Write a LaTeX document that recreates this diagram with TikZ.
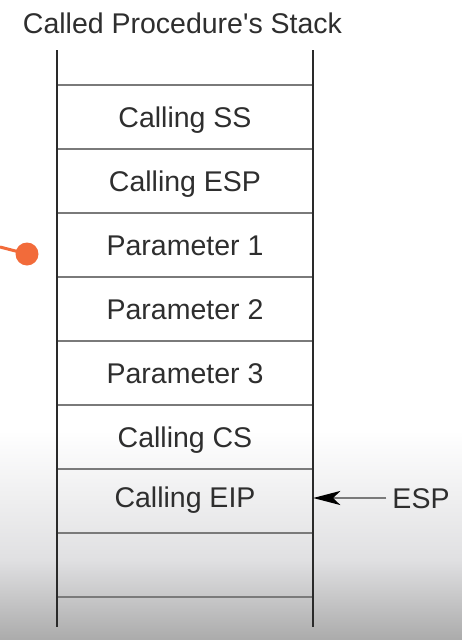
\documentclass[tikz,border=0pt]{standalone}
\usepackage{fontspec}
\setmainfont{Liberation Sans}
\usetikzlibrary{arrows.meta}
\definecolor{txt}{HTML}{2E2E2E}
\definecolor{rule}{HTML}{7A7A7A}
\definecolor{wall}{HTML}{2A2A2A}
\definecolor{dot}{HTML}{F26B3A}
\definecolor{fadeA}{HTML}{E0E0E2}
\definecolor{fadeB}{HTML}{ABABAB}
\tikzset{
  cell/.style={minimum width=256pt, minimum height=64pt, inner sep=0pt, text=txt,
    font=\fontsize{28.5}{30}\selectfont, text height=20pt, text depth=0pt},
  divider/.style={draw=rule, line width=1.8pt},
  wallline/.style={draw=wall, line width=2.4pt},
  lbl/.style={text=txt, font=\fontsize{28.5}{30}\selectfont, inner ysep=0pt, inner xsep=6pt,
    text height=20pt, text depth=0pt},
  ptr/.style={draw=rule, line width=2pt, -{Stealth[length=27pt,width=14pt,inset=7pt,color=black]}},
  link/.style={draw=dot, line width=3pt},
  dotstyle/.style={circle, fill=dot, minimum size=23pt, inner sep=0pt}
}
\begin{document}
\begin{tikzpicture}[x=1pt,y=-1pt]
\useasboundingbox (0,0) rectangle (462,640);
\fill[white] (0,0) rectangle (462,640);
\shade[top color=white, bottom color=fadeA] (0,430) rectangle (462,560);
\shade[top color=fadeA, bottom color=fadeB] (0,559.5) rectangle (462,640);
\node[lbl] (title) at (182.5,23.5) {Called Procedure\textquotesingle s Stack};
\node[cell] (c1) at (185,117) {Calling SS};
\node[cell] (c2) at (185,181) {Calling ESP};
\node[cell] (c3) at (185,245) {Parameter 1};
\node[cell] (c4) at (185,309) {Parameter 2};
\node[cell] (c5) at (185,373) {Parameter 3};
\node[cell] (c6) at (185,437) {Calling CS};
\node[cell, text depth=7pt] (c7) at (185,501) {Calling EIP};
\node[cell] (c8) at (185,565) {};
\coordinate (tl) at (57,50);
\coordinate (tr) at (313,50);
\coordinate (bl) at (57,627);
\coordinate (br) at (313,627);
\draw[divider] (c1.north west) -- (c1.north east);
\foreach \c in {c1,c2,c3,c4,c5,c6,c7,c8}
  \draw[divider] (\c.south west) -- (\c.south east);
\draw[wallline] (tl) -- (bl);
\draw[wallline] (tr) -- (br);
\node[lbl] (esp) at (421,498) {ESP};
\draw[ptr] (esp.west) -- (c7.east |- esp.west);
\coordinate (src) at (0,247);
\node[dotstyle] (pin) at (27,254) {};
\draw[link] (src) -- (pin.center);
\end{tikzpicture}
\end{document}
